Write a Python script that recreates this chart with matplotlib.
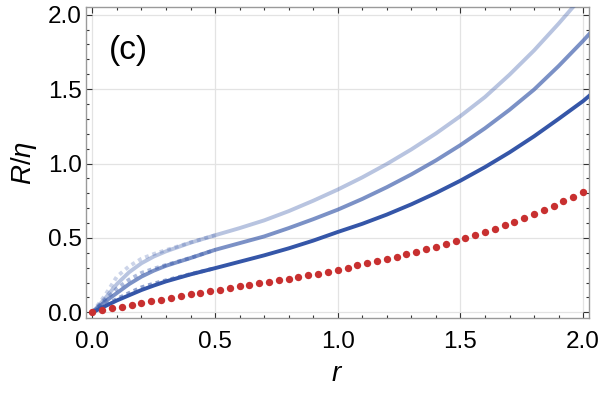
import matplotlib as mpl
import matplotlib.pyplot as plt
from matplotlib.ticker import MultipleLocator

plt.rcParams['font.family'] = ['Liberation Sans', 'DejaVu Sans']
plt.rcParams['mathtext.fontset'] = 'custom'
plt.rcParams['mathtext.it'] = 'Liberation Sans:italic'
plt.rcParams['mathtext.rm'] = 'Liberation Sans'

# blue curves (solid), sampled on r_blue
r_blue = [0.0, 0.05, 0.1, 0.15, 0.2, 0.25, 0.3, 0.4, 0.5, 0.6, 0.7, 0.8, 0.9,
          1.0, 1.1, 1.2, 1.3, 1.4, 1.5, 1.6, 1.7, 1.8, 1.9, 2.0, 2.05]
R_dark = [0.0, 0.04, 0.08, 0.115, 0.15, 0.18, 0.208, 0.255, 0.297, 0.34, 0.383,
          0.43, 0.482, 0.54, 0.595, 0.657, 0.726, 0.802, 0.885, 0.976, 1.075,
          1.183, 1.30, 1.42, 1.49]
R_mid = [0.0, 0.07, 0.13, 0.19, 0.24, 0.28, 0.313, 0.365, 0.42, 0.465, 0.51,
         0.566, 0.626, 0.69, 0.762, 0.841, 0.927, 1.021, 1.124, 1.237, 1.361,
         1.497, 1.655, 1.825, 1.915]
R_light = [0.0, 0.09, 0.19, 0.27, 0.33, 0.375, 0.41, 0.468, 0.518, 0.566, 0.618,
           0.68, 0.75, 0.825, 0.907, 0.997, 1.095, 1.202, 1.319, 1.447, 1.597,
           1.76, 1.94, 2.13, 2.23]

# dashed approximations (differ only at small r)
r_dash = [0.0, 0.05, 0.1, 0.15, 0.2, 0.25, 0.3, 0.4, 0.5]
D_dark = [0.0, 0.045, 0.09, 0.13, 0.168, 0.193, 0.215, 0.257, 0.297]
D_mid = [0.0, 0.08, 0.16, 0.22, 0.265, 0.293, 0.318, 0.366, 0.42]
D_light = [0.0, 0.11, 0.24, 0.31, 0.36, 0.392, 0.418, 0.47, 0.518]

# red dotted data
r_red = [i * 0.04 for i in range(51)]
R_red = [0.0, 0.013, 0.026, 0.039, 0.051, 0.062, 0.074, 0.086, 0.098, 0.110,
         0.121, 0.131, 0.141, 0.152, 0.163, 0.174, 0.184, 0.194, 0.204, 0.215,
         0.226, 0.237, 0.248, 0.260, 0.272, 0.286, 0.300, 0.315, 0.331, 0.346,
         0.360, 0.375, 0.391, 0.407, 0.424, 0.442, 0.461, 0.479, 0.498, 0.517,
         0.539, 0.562, 0.586, 0.610, 0.634, 0.660, 0.687, 0.714, 0.745, 0.774,
         0.806]

blue = '#3556a8'
red = '#c83030'

fig = plt.figure(figsize=(6, 3.96), dpi=100)
ax = fig.add_axes([0.1433, 0.1962, 0.8384, 0.7854])

for xs, ys, a in [(r_blue, R_light, 0.35), (r_blue, R_mid, 0.65), (r_blue, R_dark, 1.0)]:
    ax.plot(xs, ys, color=blue, alpha=a, lw=2.8, solid_capstyle='butt',
            solid_joinstyle='round', zorder=3)
for xs, ys, a in [(r_dash, D_light, 0.25), (r_dash, D_mid, 0.4), (r_dash, D_dark, 0.55)]:
    ax.plot(xs, ys, color=blue, alpha=a, lw=2.8, ls=(0, (1.0, 1.0)), zorder=3)

ax.plot(r_red, R_red, 'o', color=red, ms=5.3, mec='none', zorder=4)

ax.set_xlim(-0.026, 2.024)
ax.set_ylim(-0.04, 2.05)
ax.xaxis.set_major_locator(MultipleLocator(0.5))
ax.xaxis.set_minor_locator(MultipleLocator(0.1))
ax.yaxis.set_major_locator(MultipleLocator(0.5))
ax.yaxis.set_minor_locator(MultipleLocator(0.1))
ax.xaxis.set_major_formatter(mpl.ticker.FormatStrFormatter('%.1f'))
ax.yaxis.set_major_formatter(mpl.ticker.FormatStrFormatter('%.1f'))
ax.grid(True, which='major', color='#e3e3e3', lw=0.9, zorder=0)

for s in ax.spines.values():
    s.set_color('#9a9a9a')
    s.set_linewidth(1.0)
ax.tick_params(which='both', direction='in', top=True, right=True,
               color='#333333', width=0.8, labelsize=17.5, labelcolor='black')
ax.tick_params(which='major', length=4)
ax.tick_params(which='minor', length=2.2)
ax.tick_params(axis='x', which='major', pad=9)
ax.tick_params(axis='y', which='major', pad=3)

ax.set_xlabel('$r$', fontsize=20, labelpad=6)
ax.set_ylabel('$R/\\eta$', fontsize=20, labelpad=6)
ax.text(0.145, 1.76, '(c)', fontsize=24, ha='center', va='center')

fig.savefig('out.png', dpi=100)
